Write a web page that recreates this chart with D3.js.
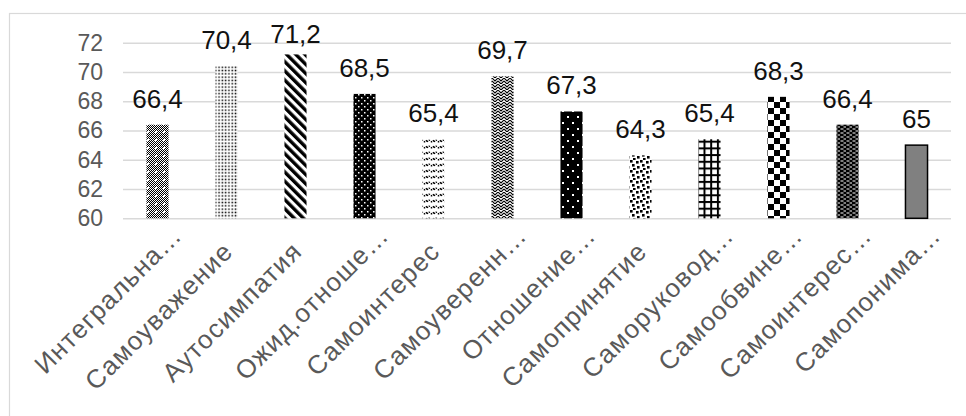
<!DOCTYPE html>
<html><head><meta charset="utf-8">
<script src="https://cdn.jsdelivr.net/npm/d3@7"></script>
<style>
html,body{margin:0;padding:0;background:#fff;}
svg{display:block;font-family:"Liberation Sans",Arial,sans-serif;}
</style></head>
<body>
<svg id="chart" width="966" height="416"></svg>
<script>
const categories = ["Интегральна…","Самоуважение","Аутосимпатия","Ожид.отноше…","Самоинтерес","Самоуверенн…","Отношение…","Самопринятие","Саморуковод…","Самообвине…","Самоинтерес…","Самопонима…"];
const values = [66.4,70.4,71.2,68.5,65.4,69.7,67.3,64.3,65.4,68.3,66.4,65];
const valueLabels = ["66,4","70,4","71,2","68,5","65,4","69,7","67,3","64,3","65,4","68,3","66,4","65"];
const yTicks = [60,62,64,66,68,70,72];
const patternIds = ["p1","p2","p3","p4","p5","p6","p7","p8","p9","p10","p11","solid"];

const svg = d3.select("#chart");
const W = 966, H = 416;
const m = {left:123, right:15};

svg.append("rect").attr("x",9.5).attr("y",13.5).attr("width",W).attr("height",H)
  .attr("fill","#fff").attr("stroke","#d9d9d9").attr("stroke-width",1.2);

const defs = svg.append("defs");
function pat(id,w,h,build,transform){
  const p = defs.append("pattern").attr("id",id).attr("patternUnits","userSpaceOnUse")
    .attr("width",w).attr("height",h);
  if(transform) p.attr("patternTransform",transform);
  build(p);
}
pat("p1",8,8,p=>{
  p.append("rect").attr("width",8).attr("height",8).attr("fill","#000");
  for(let i=0;i<8;i++)for(let j=0;j<8;j++){ if((i+j)%2===0) p.append("rect").attr("x",i).attr("y",j).attr("width",1).attr("height",1).attr("fill","#fff"); }
  p.append("rect").attr("x",3).attr("y",3).attr("width",2).attr("height",2).attr("fill","#fff");
});
pat("p2",3.3,3.3,p=>{
  p.append("rect").attr("width",3.3).attr("height",3.3).attr("fill","#fff");
  p.append("rect").attr("x",0.5).attr("y",0.5).attr("width",1.5).attr("height",1.5).attr("fill","#000");
});
pat("p3",6.5,6.5,p=>{
  p.append("rect").attr("width",6.5).attr("height",6.5).attr("fill","#fff");
  p.append("rect").attr("width",3.4).attr("height",6.5).attr("fill","#000");
},"rotate(-45)");
pat("p4",6,6,p=>{
  p.append("rect").attr("width",6).attr("height",6).attr("fill","#000");
  p.append("rect").attr("x",1).attr("y",1).attr("width",1.5).attr("height",1.5).attr("fill","#fff");
  p.append("rect").attr("x",4).attr("y",4).attr("width",1.5).attr("height",1.5).attr("fill","#fff");
});
pat("p5",7,6,p=>{
  p.append("rect").attr("width",7).attr("height",6).attr("fill","#fff");
  p.append("path").attr("d","M0,4 Q1.75,1 3.5,3 T7,2").attr("fill","none").attr("stroke","#000").attr("stroke-width",1.4).attr("stroke-dasharray","1.4,1");
});
pat("p6",6,6,p=>{
  p.append("rect").attr("width",6).attr("height",6).attr("fill","#fff");
  p.append("path").attr("d","M0,0 L3,3 L6,0 M0,3 L3,6 L6,3").attr("fill","none").attr("stroke","#000").attr("stroke-width",1.1);
});
pat("p7",10,12,p=>{
  p.append("rect").attr("width",10).attr("height",12).attr("fill","#000");
  p.append("rect").attr("x",2).attr("y",2).attr("width",2).attr("height",2).attr("fill","#fff");
  p.append("rect").attr("x",7).attr("y",8).attr("width",2).attr("height",2).attr("fill","#fff");
});
pat("p8",10,10,p=>{
  p.append("rect").attr("width",10).attr("height",10).attr("fill","#fff");
  [[0,0],[6,1],[2,4],[7,6],[3,8]].forEach(([x,y])=>p.append("rect").attr("x",x).attr("y",y).attr("width",2.6).attr("height",2.6).attr("fill","#000"));
});
pat("p9",6.7,6.7,p=>{
  p.append("rect").attr("width",6.7).attr("height",6.7).attr("fill","#fff");
  p.append("rect").attr("x",0).attr("y",0).attr("width",2).attr("height",6.7).attr("fill","#000");
  p.append("rect").attr("x",0).attr("y",0).attr("width",6.7).attr("height",2).attr("fill","#000");
});
pat("p10",12,12,p=>{
  p.append("rect").attr("width",12).attr("height",12).attr("fill","#fff");
  p.append("rect").attr("x",0).attr("y",0).attr("width",6).attr("height",6).attr("fill","#000");
  p.append("rect").attr("x",6).attr("y",6).attr("width",6).attr("height",6).attr("fill","#000");
});
pat("p11",6,4,p=>{
  p.append("rect").attr("width",6).attr("height",4).attr("fill","#000");
  p.append("rect").attr("x",0.5).attr("y",0.5).attr("width",3).attr("height",1).attr("fill","#fff");
  p.append("rect").attr("x",3.5).attr("y",2.5).attr("width",3).attr("height",1).attr("fill","#fff");
});

const x = d3.scaleBand().domain(categories).range([m.left, W-m.right]).paddingInner(0.68).paddingOuter(0.34);
const y = d3.scaleLinear().domain([60,72]).range([218.3, 42.7]);

const gAxis = svg.append("g").attr("transform",`translate(${m.left},0)`)
  .call(d3.axisLeft(y).tickValues(yTicks).tickSize(-(W-m.right-m.left)).tickPadding(20).tickFormat(d3.format("d")));
gAxis.select(".domain").remove();
gAxis.selectAll(".tick line").attr("stroke","#d9d9d9").attr("stroke-width",1.5);
gAxis.selectAll(".tick text").attr("fill","#595959").attr("font-size",23).attr("font-family","Liberation Sans, Arial, sans-serif");

svg.append("g").selectAll("rect").data(values).join("rect")
  .attr("x",(d,i)=>x(categories[i]))
  .attr("width",x.bandwidth())
  .attr("y",d=>y(d))
  .attr("height",d=>y(60)-y(d))
  .attr("fill",(d,i)=>patternIds[i]==="solid"?"#808080":`url(#${patternIds[i]})`)
  .attr("stroke",(d,i)=>patternIds[i]==="solid"?"#000":"none")
  .attr("stroke-width",1.5);

svg.append("g").selectAll("text").data(values).join("text")
  .attr("x",(d,i)=>x(categories[i])+x.bandwidth()/2)
  .attr("y",d=>Math.max(y(d)-17, 42.7))
  .attr("text-anchor","middle")
  .attr("font-size",26).attr("fill","#111")
  .text((d,i)=>valueLabels[i]);

svg.append("g").selectAll("text").data(categories).join("text")
  .attr("transform",(d)=>{
    const cx = x(d)+x.bandwidth()/2;
    const trunc = d.endsWith("…");
    const ax = cx + (trunc?26:8), ay = trunc?237:253;
    return `translate(${ax},${ay}) rotate(-45)`;
  })
  .attr("text-anchor","end")
  .attr("font-size",26).attr("letter-spacing",1.2).attr("fill","#595959")
  .text(d=>d);
</script>
</body></html>
